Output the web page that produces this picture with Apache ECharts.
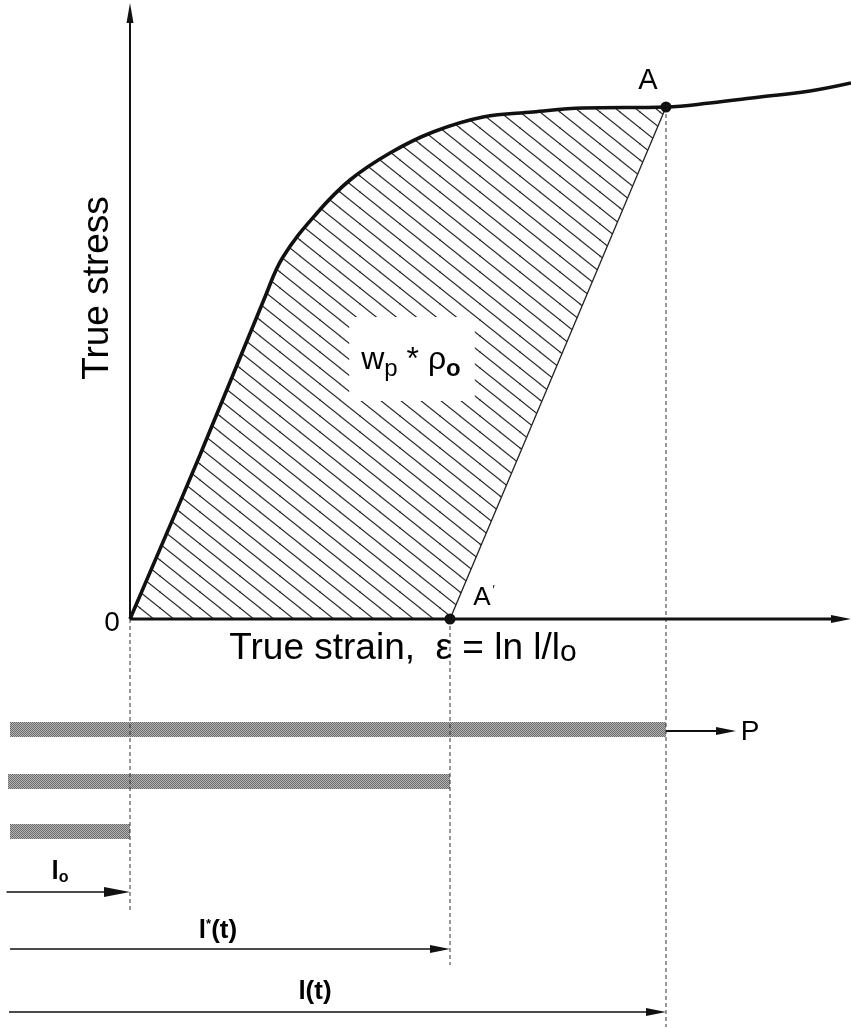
<!DOCTYPE html>
<html>
<head>
<meta charset="utf-8">
<script src="https://cdn.jsdelivr.net/npm/echarts@6/dist/echarts.min.js"></script>
<style>
  html, body { margin: 0; background: #fff; }
  #chart { width: 851px; height: 1027px; }
</style>
</head>
<body>
<div id="chart"></div>
<script>
  // strain / stress in drawing units (origin at O, stress up)
  var curveStrain = [0, 7.0, 13.5, 15.3, 18.7, 22.0, 26.0, 30.3, 35.3, 40.3, 45.3, 53.6, 58.0, 63.0, 68.0, 72.1];
  var curveStress = [0, 16.4, 32.2, 36.2, 40.6, 43.9, 46.6, 48.7, 50.2, 50.7, 51.1, 51.2, 51.6, 52.2, 52.8, 53.6];
  var pointA = [53.6, 51.2];
  var pointA1 = [32.0, 0];

  // specimens: start, end, level
  var specimenStart = [-12.0, -12.2, -12.0];
  var specimenEnd = [53.6, 32.0, 0];
  var specimenLevel = [-11.05, -16.2, -21.25];

  // length arrows l0, l*(t), l(t)
  var lengthStart = [-12.35, -12.0, -12.1];
  var lengthEnd = [0, 32.0, 53.6];
  var lengthLevel = [-27.3, -33.0, -39.3];

  // dashed guides
  var guideX = [0, 32.0, 53.6];
  var guideTop = [0, 0, 51.2];
  var guideBottom = [-29.1, -34.6, -40.8];

  var axisTitles = ['True stress', 'True strain,  \u03b5 = ln l/l{sub|o}'];

  var X_MIN = -13, X_MAX = 72.1, Y_MIN = -40.8, Y_MAX = 61.9;
  var FONT = "'Liberation Sans', Arial, Helvetica, sans-serif";
  var INK = '#111';

  function hatchPattern() {
    var c = document.createElement('canvas');
    c.width = 20; c.height = 16;
    var g = c.getContext('2d');
    g.strokeStyle = '#1c1c1c';
    g.lineWidth = 1.1;
    [[0, 0], [20, 0], [-20, 0], [0, 16], [0, -16]].forEach(function (o) {
      g.beginPath();
      g.moveTo(-2 + o[0], -1.6 + o[1]);
      g.lineTo(22 + o[0], 17.6 + o[1]);
      g.stroke();
    });
    return c;
  }

  // checker dither like the printed grey of the specimens
  function ditherPattern() {
    var c = document.createElement('canvas');
    c.width = 2; c.height = 2;
    var g = c.getContext('2d');
    g.fillStyle = '#b4b4b4'; g.fillRect(0, 0, 2, 2);
    g.fillStyle = '#6c6c6c'; g.fillRect(0, 0, 1, 1); g.fillRect(1, 1, 1, 1);
    return c;
  }
  var dither = ditherPattern();

  function arrowSeries(segs, lw, headLen, headW) {
    return {
      type: 'custom', coordinateSystem: 'cartesian2d', silent: true, z: 6,
      data: segs,
      renderItem: function (params, api) {
        var p1 = api.coord([api.value(0), api.value(1)]);
        var p2 = api.coord([api.value(2), api.value(3)]);
        var dx = p2[0] - p1[0], dy = p2[1] - p1[1];
        var len = Math.sqrt(dx * dx + dy * dy);
        var ux = dx / len, uy = dy / len;
        var bx = p2[0] - ux * headLen, by = p2[1] - uy * headLen;
        return {
          type: 'group',
          children: [
            { type: 'line', shape: { x1: p1[0], y1: p1[1], x2: bx + ux, y2: by + uy },
              style: { stroke: INK, lineWidth: lw } },
            { type: 'polygon',
              shape: { points: [[p2[0], p2[1]], [bx - uy * headW, by + ux * headW], [bx + uy * headW, by - ux * headW]] },
              style: { fill: INK } }
          ]
        };
      }
    };
  }

  var curveData = curveStrain.map(function (x, i) { return [x, curveStress[i]]; });

  var specimenData = specimenEnd.map(function (e, i) { return [specimenStart[i], e, specimenLevel[i]]; });
  var lengthData = lengthEnd.map(function (e, i) { return [lengthStart[i], lengthLevel[i], e, lengthLevel[i]]; });
  var guideData = guideX.map(function (x, i) { return [x, guideTop[i], x, guideBottom[i]]; });

  var chart = echarts.init(document.getElementById('chart'));
  var option = {
    animation: false,
    backgroundColor: '#fff',
    grid: { left: 0, right: 0, top: 0, bottom: 0 },
    xAxis: { type: 'value', min: X_MIN, max: X_MAX, show: false },
    yAxis: { type: 'value', min: Y_MIN, max: Y_MAX, show: false },
    series: [
      // hatched work area
      {
        type: 'line', data: curveData, smooth: 0.4, showSymbol: false,
        silent: true, z: 1,
        lineStyle: { width: 0, opacity: 0 },
        areaStyle: { color: { image: hatchPattern(), repeat: 'repeat' }, opacity: 1, origin: 'auto' }
      },
      // white mask to the right of the unloading line A'A
      {
        type: 'custom', coordinateSystem: 'cartesian2d', silent: true, z: 2,
        data: [[0, 0]],
        renderItem: function (params, api) {
          var pts = [pointA1, pointA, [pointA[0], Y_MAX], [X_MAX, Y_MAX], [X_MAX, 0]].map(function (p) { return api.coord(p); });
          return { type: 'polygon', shape: { points: pts }, style: { fill: '#fff' } };
        }
      },
      // unloading line A' - A
      {
        type: 'line', data: [pointA1, pointA], showSymbol: false, silent: true, z: 3,
        lineStyle: { color: '#222', width: 1.3 }
      },
      // dashed guides
      {
        type: 'custom', coordinateSystem: 'cartesian2d', silent: true, z: 3,
        data: guideData,
        renderItem: function (params, api) {
          var p1 = api.coord([api.value(0), api.value(1)]);
          var p2 = api.coord([api.value(2), api.value(3)]);
          return { type: 'line', shape: { x1: p1[0], y1: p1[1], x2: p2[0], y2: p2[1] },
            style: { stroke: '#333', lineWidth: 1, lineDash: [4, 3] } };
        }
      },
      // specimens
      {
        type: 'custom', coordinateSystem: 'cartesian2d', silent: true, z: 2,
        data: specimenData,
        renderItem: function (params, api) {
          var a = api.coord([api.value(0), api.value(2)]);
          var b = api.coord([api.value(1), api.value(2)]);
          var h = 15;
          return { type: 'rect', shape: { x: a[0], y: Math.round(a[1] - h / 2), width: b[0] - a[0], height: h },
            style: { fill: { image: dither, repeat: 'repeat' } } };
        }
      },
      // stress-strain curve
      {
        type: 'line', data: curveData, smooth: 0.4, showSymbol: false,
        silent: true, z: 5,
        lineStyle: { color: INK, width: 3.6 }
      },
      // axes
      arrowSeries([[0, 0, 0, 61.6]], 2, 20, 3.5),
      arrowSeries([[0, 0, 72.1, 0]], 3, 20, 4),
      // pulling force P
      arrowSeries([[53.6, -11.2, 60.6, -11.2]], 2, 20, 4),
      // lengths
      arrowSeries(lengthData.slice(0, 1), 1.5, 26, 5),
      arrowSeries(lengthData.slice(1), 1.5, 20, 4),
      // points A and A'
      {
        type: 'scatter', data: [pointA, pointA1], symbolSize: 11, silent: true, z: 7,
        itemStyle: { color: INK, opacity: 1 }
      },
      // texts
      {
        type: 'scatter', symbolSize: 1, silent: true, z: 10,
        itemStyle: { color: 'rgba(0,0,0,0)', opacity: 1 },
        label: { show: true, position: 'inside', color: '#000', fontFamily: FONT, fontSize: 37 },
        data: [
          { value: [-3.2, 33.1], label: { formatter: axisTitles[0], rotate: 90 } },
          { value: [27.3, -3.0], label: { formatter: axisTitles[1],
              rich: { sub: { fontFamily: FONT, fontSize: 30, color: '#000', verticalAlign: 'bottom', lineHeight: 30, padding: [14, 0, 0, 0] } } } },
          { value: [-1.8, -0.4], label: { formatter: '0', fontSize: 28 } },
          { value: [51.8, 53.8], label: { formatter: 'A', fontSize: 29 } },
          { value: [35.4, 2.1], label: { formatter: 'A{pr|\u2032}', fontSize: 26,
              rich: { pr: { fontFamily: FONT, fontSize: 12, color: '#000', padding: [0, 0, 14, 2] } } } },
          { value: [62.0, -11.3], label: { formatter: 'P', fontSize: 28 } },
          { value: [28.2, 26.0], label: { formatter: 'w{sub|p} * \u03c1{subb|o}', fontSize: 32,
              backgroundColor: '#fff', padding: [22, 14, 20, 12],
              rich: {
                sub: { fontFamily: FONT, fontSize: 24, color: '#000', padding: [18, 0, 0, 0] },
                subb: { fontFamily: FONT, fontSize: 24, fontWeight: 'bold', color: '#000', padding: [18, 0, 0, 0] }
              } } },
          { value: [-7.0, -25.3], label: { formatter: 'l{sub|o}', fontSize: 26, fontWeight: 'bold',
              rich: { sub: { fontFamily: FONT, fontSize: 16, fontWeight: 'bold', color: '#000', padding: [12, 0, 0, 0] } } } },
          { value: [8.8, -31.2], label: { formatter: 'l{sup|*}(t)', fontSize: 26, fontWeight: 'bold',
              rich: { sup: { fontFamily: FONT, fontSize: 13, fontWeight: 'bold', color: '#000', padding: [0, 0, 14, 0] } } } },
          { value: [18.5, -37.3], label: { formatter: 'l(t)', fontSize: 26, fontWeight: 'bold' } }
        ]
      }
    ]
  };
  chart.setOption(option);
</script>
</body>
</html>
